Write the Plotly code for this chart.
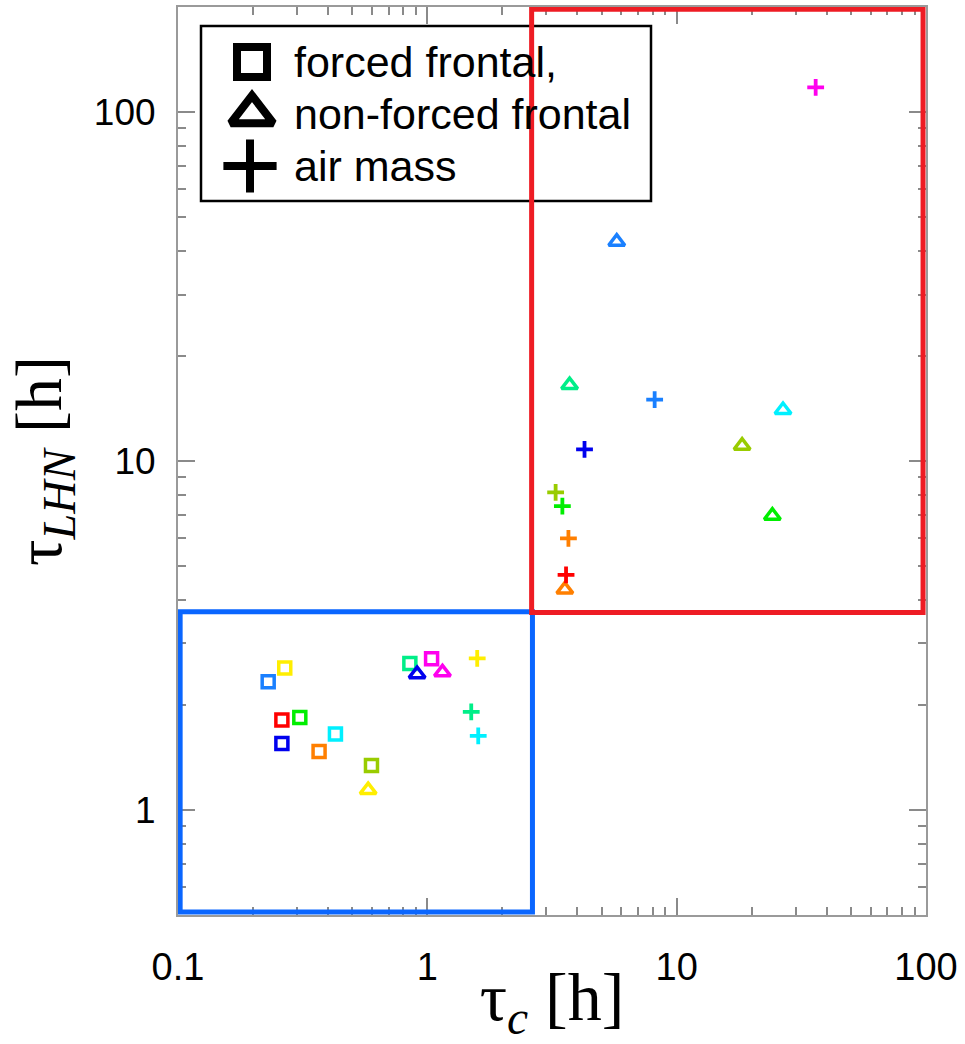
import math
import plotly.graph_objects as go

# ---------------- data ----------------
forced_x = [0.230, 0.268, 0.261, 0.308, 0.261, 0.428, 0.368, 0.597, 0.851, 1.04]
forced_y = [2.33, 2.55, 1.81, 1.84, 1.55, 1.65, 1.47, 1.34, 2.63, 2.71]
forced_c = ["#1a80ff", "#ffee00", "#ff0000", "#00ee00", "#0000ee",
            "#00f0ff", "#ff7f00", "#99cc00", "#00ee88", "#ff00ee"]

nonforced_x = [0.579, 0.910, 1.15, 3.72, 26.7, 18.3, 24.2, 3.56, 5.75]
nonforced_y = [1.14, 2.45, 2.48, 16.5, 14.0, 11.06, 6.97, 4.28, 42.5]
nonforced_c = ["#ffee00", "#0000ee", "#ff00ee", "#00ee88", "#00f0ff",
               "#99cc00", "#00ee00", "#ff7f00", "#1a80ff"]

airmass_x = [1.585, 1.50, 1.60, 8.16, 4.27, 3.27, 3.48, 3.68, 3.60, 36.1]
airmass_y = [2.72, 1.91, 1.63, 15.0, 10.8, 8.13, 7.42, 6.0, 4.72, 117.7]
airmass_c = ["#ffee00", "#00ee88", "#00f0ff", "#1a80ff", "#0000ee",
             "#99cc00", "#00ee00", "#ff7f00", "#ff0000", "#ff00ee"]

legend_labels = ["forced frontal,", "non-forced frontal", "air mass"]

# region boxes (data units): [x0, x1, y0, y1]
blue_box = [0.102, 2.64, 0.51, 3.70]
red_box = [2.62, 97.3, 3.68, 197.0]

x_range = [0.1, 100]
y_range = [0.5, 200]
x_ticks = [0.1, 1, 10, 100]
x_ticktext = ["0.1", "1", "10", "100"]
y_ticks = [1, 10, 100]
y_ticktext = ["1", "10", "100"]

# ---------------- figure ----------------
W, H = 965, 1044
ML, MR, MT, MB = 178, 39, 7, 129

fig = go.Figure()

fig.add_trace(go.Scatter(
    x=forced_x, y=forced_y, mode="markers", showlegend=False,
    marker=dict(symbol="square-open", size=12, color=forced_c, opacity=1,
                line=dict(width=3.5, color=forced_c))))
fig.add_trace(go.Scatter(
    x=nonforced_x, y=nonforced_y, mode="markers", showlegend=False,
    marker=dict(symbol="triangle-up-open", size=14, color=nonforced_c, opacity=1,
                line=dict(width=3.5, color=nonforced_c))))
fig.add_trace(go.Scatter(
    x=airmass_x, y=airmass_y, mode="markers", showlegend=False,
    marker=dict(symbol="cross-thin-open", size=12, color=airmass_c, opacity=1,
                line=dict(width=3.8, color=airmass_c))))

# legend symbols on a pixel overlay axis
leg_sym_x = [252, 252, 250]
leg_sym_y = [62, 114, 166]
fig.add_trace(go.Scatter(
    x=leg_sym_x, y=leg_sym_y, xaxis="x2", yaxis="y2", mode="markers",
    showlegend=False, hoverinfo="skip",
    marker=dict(symbol=["square-open", "triangle-up-open", "cross-thin-open"],
                size=[30, 37, 38], color="black", opacity=1,
                line=dict(width=8, color="black"))))

minor_vals_x = [m * 10 ** e for e in range(-1, 2) for m in range(2, 10)]
minor_vals_y = [m * 10 ** e for e in range(-1, 3) for m in range(2, 10)]

axis_common = dict(
    type="log", showline=True, linecolor="#9a9a9a", linewidth=2, mirror="ticks",
    ticks="inside", ticklen=17, tickwidth=1.5, tickcolor="#8a8a8a",
    showgrid=False, zeroline=False, automargin=False,
)

fig.update_layout(
    width=W, height=H,
    margin=dict(l=ML, r=MR, t=MT, b=MB),
    paper_bgcolor="white", plot_bgcolor="white",
    xaxis=dict(**axis_common,
               range=[math.log10(x_range[0]), math.log10(x_range[1])],
               tickvals=x_ticks, ticktext=x_ticktext,
               tickfont=dict(family="Liberation Sans, Arial", size=38, color="black"),
               ticklabelstandoff=17,
               minor=dict(tickvals=minor_vals_x, ticks="inside", ticklen=8,
                          tickwidth=1.5, tickcolor="#8a8a8a", showgrid=False),
               title=dict(text="τ<sub><i>c</i></sub> [h]",
                          font=dict(family="Liberation Serif, Times New Roman", size=68, color="black"),
                          standoff=16)),
    yaxis=dict(**axis_common,
               range=[math.log10(y_range[0]), math.log10(y_range[1])],
               tickvals=y_ticks, ticktext=y_ticktext,
               tickfont=dict(family="Liberation Sans, Arial", size=37, color="black"),
               ticklabelstandoff=13,
               minor=dict(tickvals=minor_vals_y, ticks="inside", ticklen=8,
                          tickwidth=1.5, tickcolor="#8a8a8a", showgrid=False),
               title=dict(text="τ<sub><i>LHN</i></sub> [h]",
                          font=dict(family="Liberation Serif, Times New Roman", size=66, color="black"),
                          standoff=11)),
    xaxis2=dict(domain=[0, 1], range=[ML, W - MR], anchor="y2", overlaying="x",
                visible=False, fixedrange=True),
    yaxis2=dict(domain=[0, 1], range=[H - MB, MT], anchor="x2", overlaying="y",
                visible=False, fixedrange=True),
)

# region boxes
fig.add_shape(type="rect", xref="x", yref="y",
              x0=blue_box[0], x1=blue_box[1], y0=blue_box[2], y1=blue_box[3],
              line=dict(color="#0a66ff", width=5), fillcolor="rgba(0,0,0,0)", layer="above")
fig.add_shape(type="rect", xref="x", yref="y",
              x0=red_box[0], x1=red_box[1], y0=red_box[2], y1=red_box[3],
              line=dict(color="#ee1c24", width=5), fillcolor="rgba(0,0,0,0)", layer="above")

# legend box
fig.add_shape(type="rect", xref="x2", yref="y2", x0=201, x1=651, y0=26, y1=201,
              line=dict(color="black", width=2.5), fillcolor="white", layer="below")
for lbl, yy in zip(legend_labels, leg_sym_y):
    fig.add_annotation(xref="x2", yref="y2", x=292, y=yy, text=lbl, showarrow=False,
                       xanchor="left", yanchor="middle",
                       font=dict(family="Liberation Sans, Arial", size=43, color="black"))

fig.write_html("out.html")
